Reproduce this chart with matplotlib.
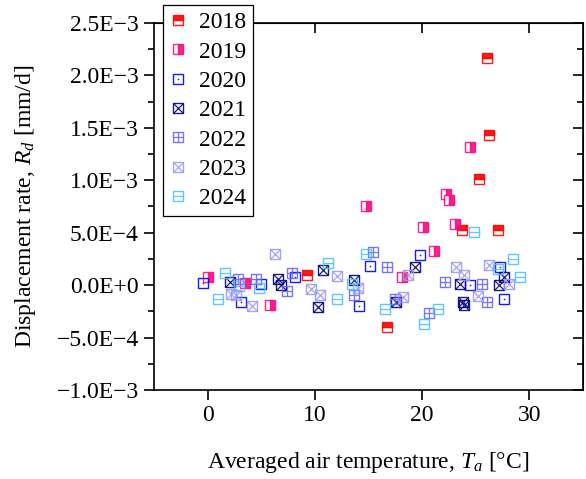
import numpy as np
import matplotlib
matplotlib.use("Agg")
import matplotlib.pyplot as plt
from matplotlib.lines import Line2D
from matplotlib.ticker import MultipleLocator, FuncFormatter

plt.rcParams['font.family'] = 'Liberation Serif'
plt.rcParams['mathtext.fontset'] = 'custom'
plt.rcParams['mathtext.rm'] = 'Liberation Serif'
plt.rcParams['mathtext.it'] = 'Liberation Serif:italic'

# air temperature [degC] and displacement rate [1e-4 mm/d]
t_2018 = [9.3, 16.7, 26.0, 26.2, 25.3, 23.7, 27.1]
r_2018 = [1.0, -3.95, 21.7, 14.3, 10.1, 5.3, 5.3]

t_2019 = [0.05, 3.5, 5.8, 14.8, 20.1, 21.1, 18.1, 22.2, 22.5, 23.05, 24.5]
r_2019 = [0.8, 0.2, -1.9, 7.5, 5.5, 3.3, 0.8, 8.7, 8.1, 5.8, 13.2]

t_2020 = [-0.4, 3.1, 5.0, 8.1, 15.1, 14.15, 19.8, 24.5, 27.6, 27.3]
r_2020 = [0.2, -1.6, 0.1, 0.8, 1.8, -2.0, 2.85, 0.0, -1.3, 1.7]

t_2021 = [2.1, 6.6, 6.85, 10.8, 10.3, 13.6, 19.3, 17.6, 23.5, 23.8, 23.9, 27.2, 27.6]
r_2021 = [0.3, 0.6, 0.0, 1.4, -2.1, 0.5, 1.7, -1.6, 0.15, -1.6, -1.9, 0.0, 0.8]

t_2022 = [2.8, 4.5, 7.85, 7.4, 15.45, 16.7, 13.6, 17.5, 22.15, 25.6, 26.0, 20.6]
r_2022 = [0.55, 0.6, 1.2, -0.55, 3.2, 1.7, -0.9, -1.3, 0.3, 0.1, -1.6, -2.7]

t_2023 = [6.3, 2.2, 2.65, 4.1, 12.1, 9.65, 10.5, 14.05, 23.2, 23.9, 25.2, 26.2, 28.05, 18.25, 18.7]
r_2023 = [3.0, -0.8, -0.95, -2.0, 0.85, -0.4, -0.95, -0.3, 1.7, 1.0, -1.0, 1.9, 0.15, -1.1, 0.95]

t_2024 = [1.6, 0.95, 2.9, 4.8, 11.2, 14.75, 13.5, 12.1, 16.55, 21.5, 20.2, 27.1, 28.45, 29.1, 24.85]
r_2024 = [1.2, -1.3, -0.1, -0.3, 2.1, 3.0, 0.15, -1.3, -2.3, -2.3, -3.7, 1.5, 2.5, 0.8, 5.1]

years = ['2018', '2019', '2020', '2021', '2022', '2023', '2024']
temps = [t_2018, t_2019, t_2020, t_2021, t_2022, t_2023, t_2024]
rates = [r_2018, r_2019, r_2020, r_2021, r_2022, r_2023, r_2024]
colors = ['#FF0000', '#FF0A80', '#0000FF', '#000080', '#6666FF', '#9999FF', '#4DC0FF']
# (fillstyle of the square, marker drawn inside it)
styles = [('top', None), ('right', None), ('none', 'dot'), ('none', 'x'),
          ('none', '+'), ('none', 'x'), ('none', '_')]

ms = 7.4
mew = 1.0

fig = plt.figure(figsize=(5.86, 4.79), dpi=100)
ax = fig.add_axes([0.2628, 0.1858, 0.7322, 0.7662])

handles = []
for yr, t, r, c, (fs, inner) in zip(years, temps, rates, colors, styles):
    y = np.array(r) * 1e-4
    sq = dict(marker='s', ms=ms, mew=mew, mec=c, linestyle='none', alpha=0.9)
    if fs == 'none':
        sq.update(mfc='none', fillstyle='none')
    else:
        sq.update(mfc=c, fillstyle=fs, markerfacecoloralt='white')
    ax.plot(t, y, **sq)
    parts = [Line2D([], [], **sq)]
    if inner == 'dot':
        ik = dict(marker='o', ms=1.2, mew=0, mfc=c, linestyle='none', alpha=0.9)
    elif inner is not None:
        ik = dict(marker=inner, ms=ms, mew=mew * 0.9, mec=c, linestyle='none', alpha=0.9)
    else:
        ik = None
    if ik is not None:
        ax.plot(t, y, **ik)
        parts.append(Line2D([], [], **ik))
    handles.append(tuple(parts))

ax.set_xlim(-5, 35)
ax.set_ylim(-1e-3, 2.5e-3)


def sci_fmt(v, pos):
    if abs(v) < 1e-12:
        return '0.0E+0'
    e = int(np.floor(np.log10(abs(v)) + 1e-9))
    m = v / 10 ** e
    s = '{:.1f}E{}{}'.format(m, '+' if e >= 0 else '-', abs(e))
    return s.replace('-', '\u2212')


fs_txt = 17
ax.xaxis.set_major_locator(MultipleLocator(10))
ax.yaxis.set_major_locator(MultipleLocator(5e-4))
ax.yaxis.set_minor_locator(MultipleLocator(2.5e-4))
ax.yaxis.set_major_formatter(FuncFormatter(sci_fmt))
ax.tick_params(axis='both', which='major', direction='out', length=7, width=1.2,
               labelsize=fs_txt, pad=4)
ax.tick_params(axis='y', which='minor', direction='out', length=4, width=1.2)
for s in ax.spines.values():
    s.set_linewidth(1.2)

top = ax.secondary_xaxis('top')
top.xaxis.set_major_locator(MultipleLocator(10))
top.tick_params(direction='in', length=7, width=1.2, labeltop=False)
right = ax.secondary_yaxis('right')
right.yaxis.set_major_locator(MultipleLocator(5e-4))
right.yaxis.set_minor_locator(MultipleLocator(2.5e-4))
right.tick_params(which='major', direction='in', length=7, width=1.2, labelright=False)
right.tick_params(which='minor', direction='in', length=4, width=1.2)

ax.set_xlabel('Averaged air temperature, $T_a$ [\u00b0C]', fontsize=fs_txt, labelpad=17)
ax.set_ylabel('Displacement rate, $R_d$ [mm/d]', fontsize=fs_txt, labelpad=13)

leg = ax.legend(handles, years, loc='upper left', bbox_to_anchor=(0.02, 1.05),
                fontsize=fs_txt, frameon=True, fancybox=False, edgecolor='black',
                framealpha=1, handlelength=0.68, handletextpad=0.55, labelspacing=0.33,
                borderpad=0.3, borderaxespad=0)
leg.get_frame().set_linewidth(0.9)
leg.set_zorder(5)

fig.savefig('out.png', dpi=100)
